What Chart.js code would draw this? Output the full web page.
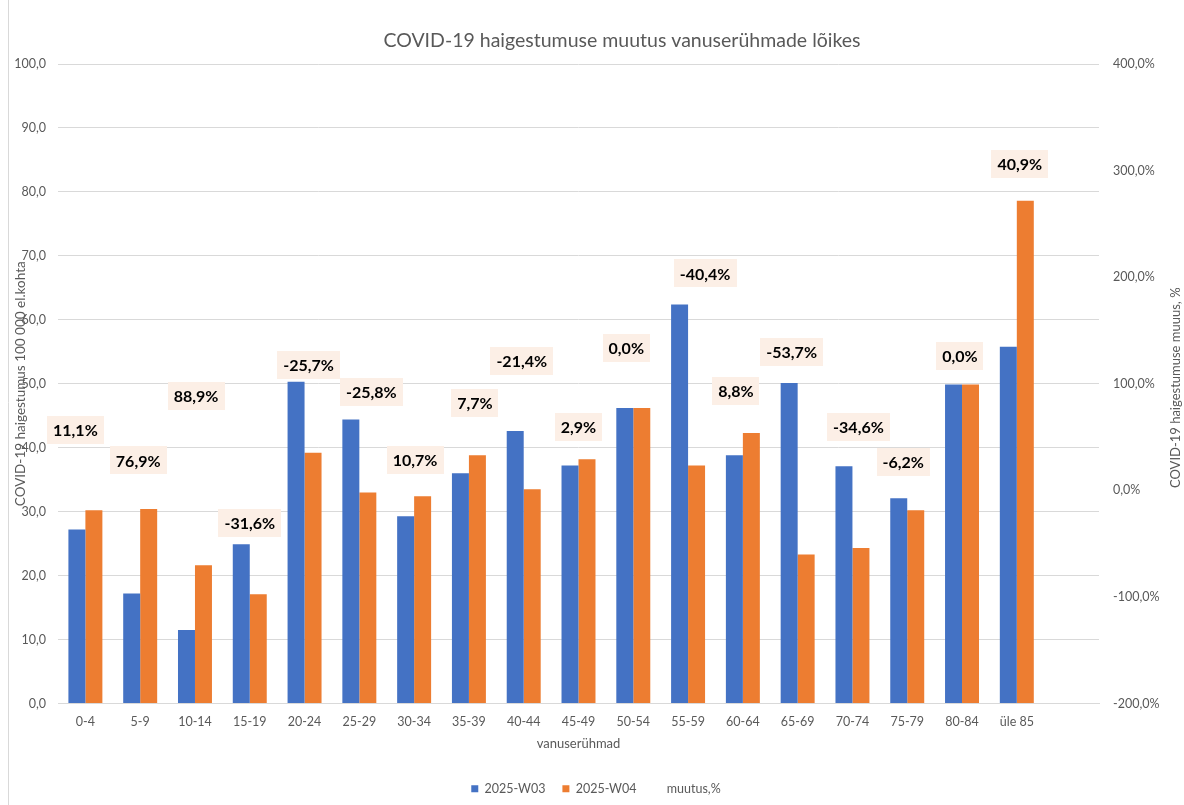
<!DOCTYPE html>
<html>
<head>
<meta charset="utf-8">
<script src="https://cdn.jsdelivr.net/npm/chart.js@4.4.1/dist/chart.umd.min.js"></script>
<style>
html, body { margin: 0; padding: 0; background: #fff; }
canvas { display: block; }
</style>
</head>
<body>
<canvas id="chart" width="1184" height="805"></canvas>
<script>
// age groups - the sheet has one empty slot at the end, keeps the bars left
var ageGroups = ['0-4', '5-9', '10-14', '15-19', '20-24', '25-29', '30-34', '35-39', '40-44',
	'45-49', '50-54', '55-59', '60-64', '65-69', '70-74', '75-79', '80-84', 'üle 85', ''];

// incidence per 100 000
var week03 = [27.2, 17.2, 11.5, 24.9, 50.3, 44.4, 29.3, 36.0, 42.6, 37.2, 46.2, 62.4, 38.8, 50.1, 37.1, 32.1, 49.9, 55.8, null];
var week04 = [30.2, 30.4, 21.6, 17.1, 39.2, 33.0, 32.4, 38.8, 33.5, 38.2, 46.2, 37.2, 42.3, 23.3, 24.3, 30.2, 49.9, 78.6, null];

// change, %
var changePct = [11.1, 76.9, 88.9, -31.6, -25.7, -25.8, 10.7, 7.7, -21.4, 2.9, 0.0, -40.4, 8.8, -53.7, -34.6, -6.2, 0.0, 40.9, null];

// the % labels were dragged around by hand in the original, offset from their point (px)
var labelNudge = [[-10, -49], [-2, 52], [1, 0], [0, -1], [4, -153], [12, -126], [1, -19], [6, -79], [-2, -152],
	[0, -60], [-7, -142], [17, -260], [-7, -90], [-6, -196], [6, -100], [-4, -35], [-2, -134], [3, -283]];

var FONT = 'Lato, "Open Sans", sans-serif';
var GREY = '#595959';

function comma(v, digits) {
	return v.toFixed(digits).replace('.', ',');
}

var pctLabels = {
	id: 'pctLabels',
	afterDatasetsDraw: function (chart) {
		var ctx = chart.ctx;
		var meta = chart.getDatasetMeta(2);
		ctx.save();
		ctx.font = 'bold 16px ' + FONT;
		ctx.textAlign = 'center';
		ctx.textBaseline = 'middle';
		meta.data.forEach(function (pt, i) {
			var v = changePct[i];
			if (v === null || v === undefined) return;
			var nudge = labelNudge[i] || [0, 0];
			var x = pt.x + nudge[0];
			var y = pt.y + nudge[1];
			var txt = comma(v, 1) + '%';
			var w = ctx.measureText(txt).width + 12;
			var h = 28;
			ctx.fillStyle = '#FCEFE6';
			ctx.fillRect(Math.round(x - w / 2), Math.round(y - h / 2), Math.round(w), h);
			ctx.fillStyle = '#000000';
			ctx.fillText(txt, x, y + 1);
		});
		ctx.restore();
	}
};

var decor = {
	id: 'decor',
	beforeDraw: function (chart) {
		var ctx = chart.ctx;
		ctx.save();
		ctx.strokeStyle = '#D9D9D9';
		ctx.lineWidth = 1;
		ctx.beginPath();
		ctx.moveTo(8.5, 0);
		ctx.lineTo(8.5, chart.height);
		ctx.stroke();
		ctx.restore();
	},
	afterDraw: function (chart) {
		var ctx = chart.ctx;
		var area = chart.chartArea;
		var midY = (area.top + area.bottom) / 2;
		ctx.save();
		ctx.fillStyle = GREY;
		ctx.textAlign = 'center';
		ctx.textBaseline = 'middle';

		ctx.font = '19.5px ' + FONT;
		ctx.fillText('COVID-19 haigestumuse muutus vanuserühmade lõikes', 622, 41);

		ctx.font = '13.5px ' + FONT;
		ctx.save();
		ctx.translate(21, midY);
		ctx.rotate(-Math.PI / 2);
		ctx.fillText('COVID-19 haigestumus 100 000 el.kohta', 0, 0);
		ctx.restore();

		ctx.font = '13px ' + FONT;
		ctx.save();
		ctx.translate(1176, midY + 4);
		ctx.rotate(-Math.PI / 2);
		ctx.fillText('COVID-19 haigestumuse muuus, %', 0, 0);
		ctx.restore();

		ctx.restore();
	}
};

new Chart(document.getElementById('chart'), {
	type: 'bar',
	data: {
		labels: ageGroups,
		datasets: [
			{
				label: '2025-W03',
				data: week03,
				backgroundColor: '#4472C4',
				yAxisID: 'y'
			},
			{
				label: '2025-W04',
				data: week04,
				backgroundColor: '#ED7D31',
				yAxisID: 'y'
			},
			{
				type: 'line',
				label: 'muutus,%',
				data: changePct,
				yAxisID: 'y1',
				showLine: false,
				pointRadius: 0,
				borderColor: 'rgba(0,0,0,0)',
				backgroundColor: 'rgba(0,0,0,0)'
			}
		]
	},
	options: {
		responsive: false,
		animation: false,
		layout: {
			padding: { top: 64, left: 8, right: 0, bottom: 0 }
		},
		datasets: {
			bar: { categoryPercentage: 0.62, barPercentage: 1.0 }
		},
		plugins: {
			title: { display: false },
			tooltip: { enabled: false },
			legend: {
				position: 'bottom',
				labels: {
					color: GREY,
					font: { family: FONT, size: 12.5 },
					boxWidth: 7,
					boxHeight: 7,
					padding: 17,
					sort: function (a, b) { return a.datasetIndex - b.datasetIndex; },
					generateLabels: function (chart) {
						var items = Chart.defaults.plugins.legend.labels.generateLabels(chart);
						items.forEach(function (it) {
							it.lineWidth = 0;
							if (it.datasetIndex === 2) {
								it.fillStyle = 'rgba(0,0,0,0)';
								it.strokeStyle = 'rgba(0,0,0,0)';
							}
						});
						return items;
					}
				}
			}
		},
		scales: {
			x: {
				grid: { display: false },
				border: { display: true, color: '#D9D9D9' },
				ticks: {
					color: GREY,
					font: { family: FONT, size: 12.5 },
					padding: 3,
					maxRotation: 0,
					autoSkip: false
				},
				title: {
					display: true,
					text: 'vanuserühmad',
					color: GREY,
					font: { family: FONT, size: 13 },
					padding: { top: 0, bottom: 14 }
				},
				afterFit: function (scale) { scale.height = 62; }
			},
			y: {
				position: 'left',
				min: 0,
				max: 100,
				grid: { color: '#D9D9D9', drawTicks: false },
				border: { display: false },
				ticks: {
					stepSize: 10,
					color: GREY,
					font: { family: FONT, size: 12.5 },
					padding: 12,
					callback: function (v) { return comma(v, 1); }
				},
				afterFit: function (scale) { scale.width = 50; }
			},
			y1: {
				position: 'right',
				min: -200,
				max: 400,
				grid: { display: false, drawTicks: false },
				border: { display: false },
				ticks: {
					stepSize: 100,
					color: GREY,
					font: { family: FONT, size: 12.5 },
					padding: 14,
					callback: function (v) { return comma(v, 1) + '%'; }
				},
				afterFit: function (scale) { scale.width = 85; }
			}
		}
	},
	plugins: [pctLabels, decor]
});
</script>
</body>
</html>
